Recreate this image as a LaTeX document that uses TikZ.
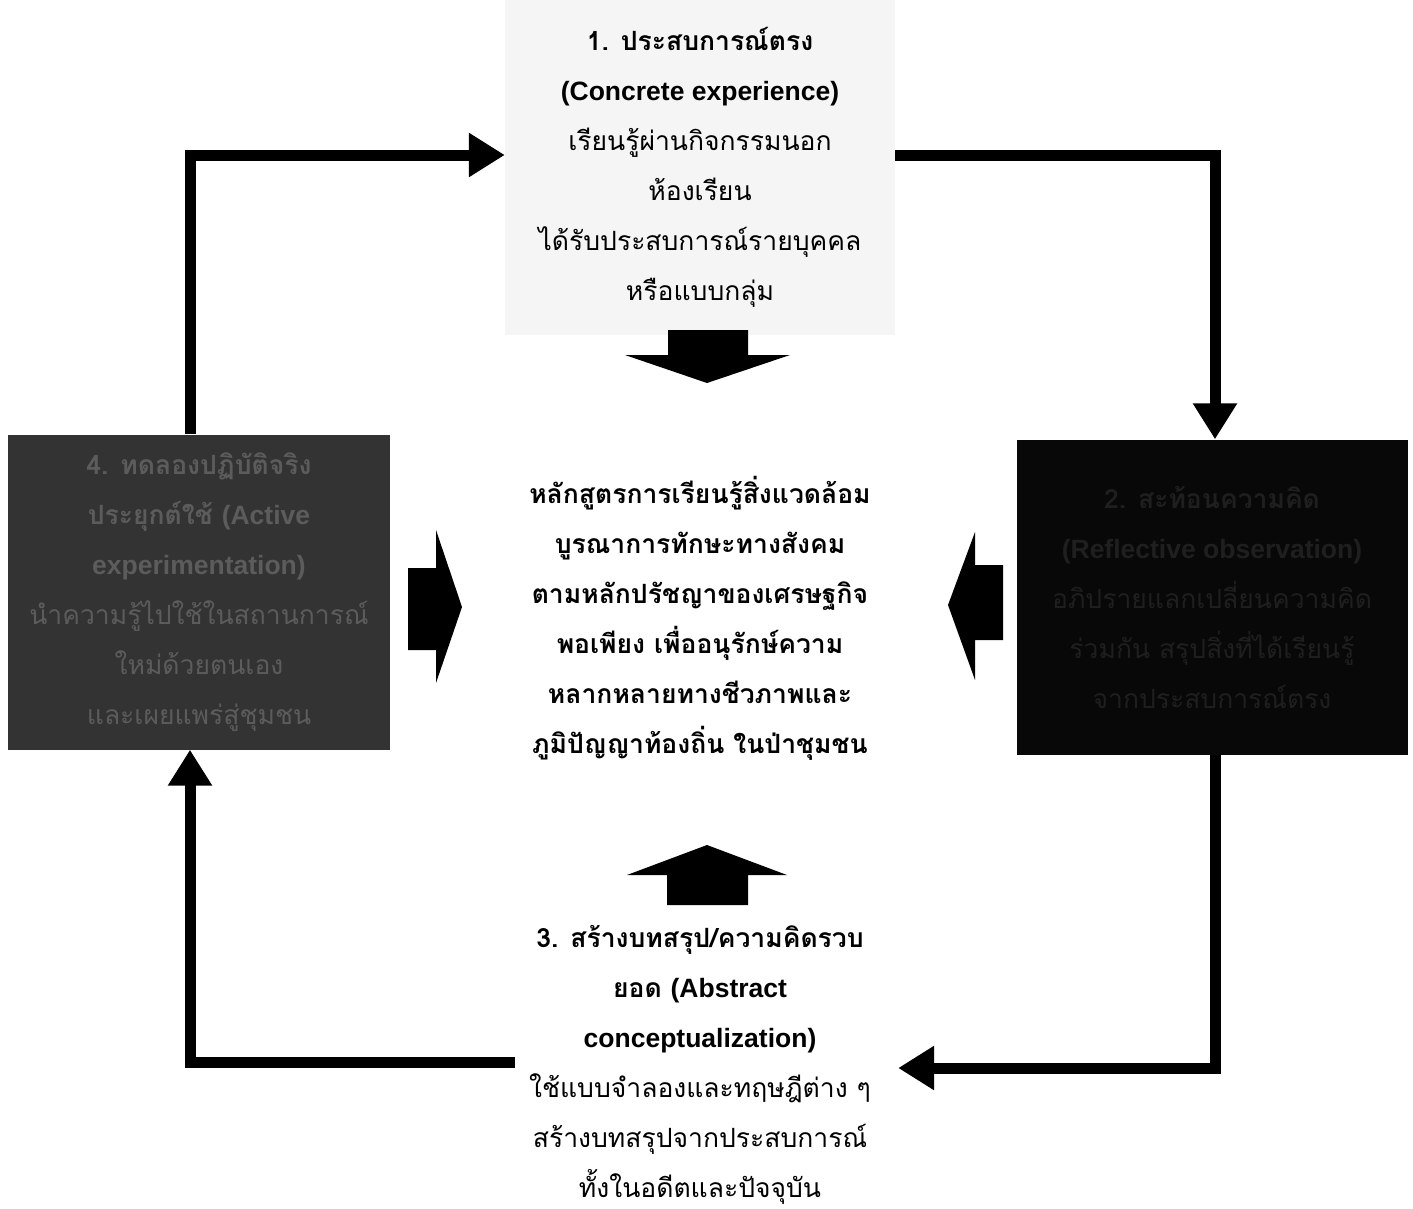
\documentclass[tikz,border=0pt]{standalone}
\usepackage{fontspec}
\setmainfont{Liberation Sans}
\newfontfamily\thaifont[Script=Thai]{Loma}
\newcommand{\eng}[1]{{\rmfamily #1}}
\usetikzlibrary{arrows.meta}

\begin{document}
\begin{tikzpicture}[x=1pt,y=-1pt,
  every node/.style = {align=center, font=\thaifont\fontsize{26.5}{50}\selectfont},
  stagebox/.style = {rectangle, inner sep=0pt},
  link/.style = {line width=11pt, -{Triangle[length=36pt,width=42pt]}},
  blockarrow/.style = {fill=black}]

  \useasboundingbox (0,0) rectangle (1413,1208);

  % the four stages and the core
  \node[stagebox, fill=black!4, minimum width=390pt, minimum height=335pt] (exp) at (700,167)
    {\textbf{1. ประสบการณ์ตรง}\\
     \textbf{\eng{(Concrete experience)}}\\
     เรียนรู้ผ่านกิจกรรมนอก\\
     ห้องเรียน\\
     ได้รับประสบการณ์รายบุคคล\\
     หรือแบบกลุ่ม};
  \node[stagebox, fill=black!80, text=black!64, minimum width=382pt, minimum height=315pt] (act) at (199,592)
    {\textbf{4. ทดลองปฏิบัติจริง}\\
     \textbf{ประยุกต์ใช้ \eng{(Active}}\\
     \textbf{\eng{experimentation)}}\\
     นำความรู้ไปใช้ในสถานการณ์\\
     ใหม่ด้วยตนเอง\\
     และเผยแพร่สู่ชุมชน};
  \node[stagebox, fill=black!97, text=black!88, minimum width=391pt, minimum height=315pt] (refl) at (1212,597)
    {\textbf{2. สะท้อนความคิด}\\
     \textbf{\eng{(Reflective observation)}}\\
     อภิปรายแลกเปลี่ยนความคิด\\
     ร่วมกัน สรุปสิ่งที่ได้เรียนรู้\\
     จากประสบการณ์ตรง};
  \node (core) at (700,618)
    {\textbf{หลักสูตรการเรียนรู้สิ่งแวดล้อม}\\
     \textbf{บูรณาการทักษะทางสังคม}\\
     \textbf{ตามหลักปรัชญาของเศรษฐกิจ}\\
     \textbf{พอเพียง เพื่ออนุรักษ์ความ}\\
     \textbf{หลากหลายทางชีวภาพและ}\\
     \textbf{ภูมิปัญญาท้องถิ่น ในป่าชุมชน}};
  \node[stagebox, minimum width=380pt] (abs) at (700,1065)
    {\textbf{3. สร้างบทสรุป/ความคิดรวบ}\\
     \textbf{ยอด \eng{(Abstract}}\\
     \textbf{\eng{conceptualization)}}\\
     ใช้แบบจำลองและทฤษฎีต่าง ๆ\\
     สร้างบทสรุปจากประสบการณ์\\
     ทั้งในอดีตและปัจจุบัน};

  % block arrows into the core
  \fill[blockarrow] (668,330) -- (748,330) -- (748,355) -- (790,355) -- (707,383)
    -- (625,355) -- (668,355) -- cycle;
  \fill[blockarrow] (667,905) -- (748,905) -- (748,875) -- (787,875) -- (707,845)
    -- (627,875) -- (667,875) -- cycle;
  \fill[blockarrow] (408,568) -- (436,568) -- (436,530) -- (462,607) -- (436,683)
    -- (436,650) -- (408,650) -- cycle;
  \fill[blockarrow] (1003,565) -- (975,565) -- (975,532) -- (948,605) -- (975,680)
    -- (975,640) -- (1003,640) -- cycle;

  % cycle
  \draw[link] ([xshift=-9pt]act.north) |- ([yshift=12pt]exp.west);
  \draw[link] ([yshift=12pt]exp.east) -| ([xshift=3pt]refl.north);
  \draw[link] ([xshift=3pt]refl.south) |- ([xshift=8pt,yshift=-3pt]abs.east);
  \draw[link] ([xshift=5pt,yshift=3pt]abs.west) -| ([xshift=-9pt]act.south);
\end{tikzpicture}
\end{document}
